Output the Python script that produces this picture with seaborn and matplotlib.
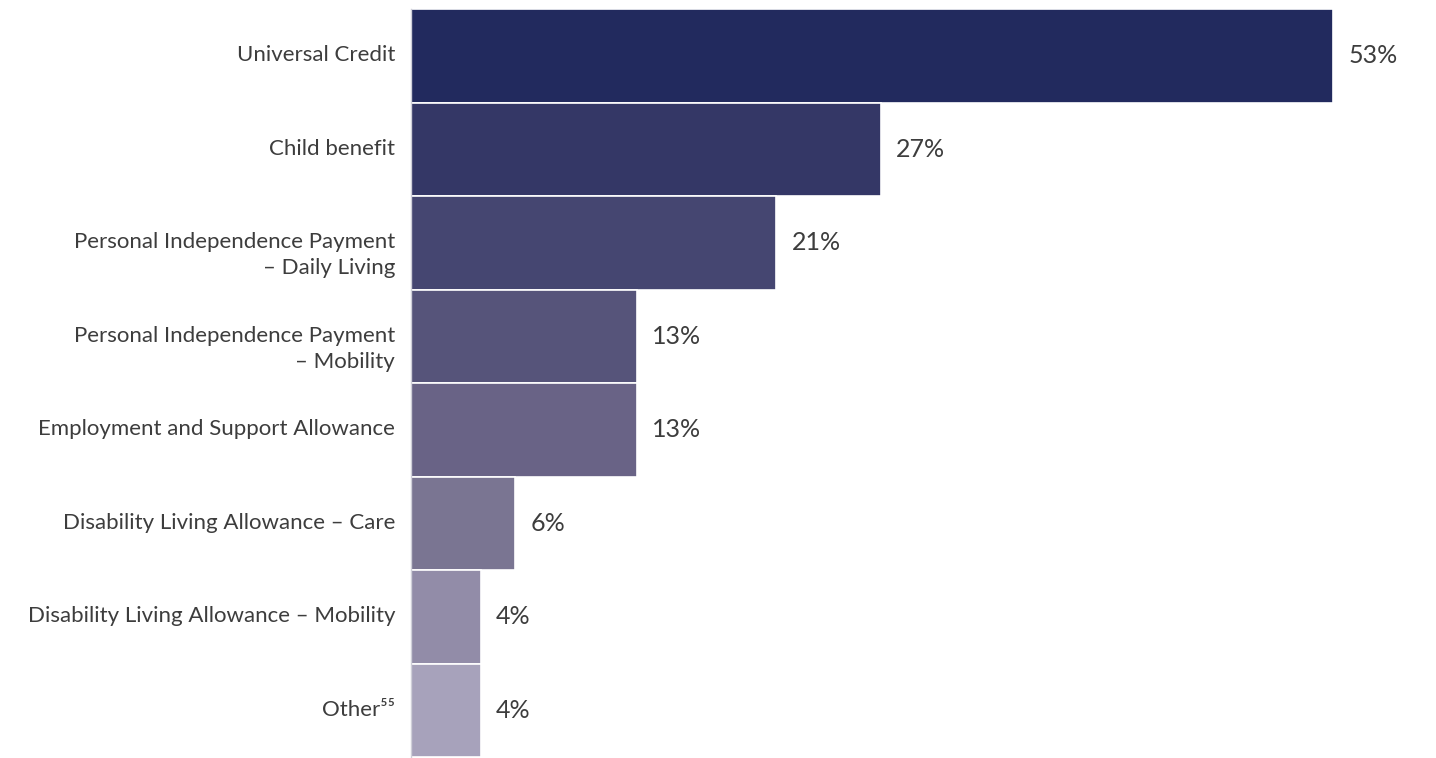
import matplotlib
matplotlib.use("Agg")
import matplotlib.pyplot as plt
import matplotlib.transforms as mtransforms
import seaborn as sns
import pandas as pd

# Share of claimants receiving each benefit
benefits = [
    "Universal Credit",
    "Child benefit",
    "Personal Independence Payment\n– Daily Living",
    "Personal Independence Payment\n– Mobility",
    "Employment and Support Allowance",
    "Disability Living Allowance – Care",
    "Disability Living Allowance – Mobility",
    "Other⁵⁵",
]
shares = [53, 27, 21, 13, 13, 6, 4, 4]
bar_colors = ["#222a5e", "#343766", "#454671", "#56547a",
              "#696386", "#7a7592", "#928ca8", "#a7a2bb"]

sns.set_theme(style="white")
plt.rcParams["font.family"] = ["Lato", "DejaVu Sans"]

df = pd.DataFrame({"benefit": benefits, "share": shares})

W, H = 1436, 758
fig = plt.figure(figsize=(W / 100, H / 100), dpi=100)
left_px, right_px, top_px, bot_px = 411, 1436, 9, 757
ax = fig.add_axes([left_px / W, 1 - bot_px / H,
                   (right_px - left_px) / W, (bot_px - top_px) / H])

sns.barplot(data=df, x="share", y="benefit", hue="benefit",
            palette=bar_colors, saturation=1, legend=False, orient="h",
            width=1.0, edgecolor="white", linewidth=1.2, ax=ax)

xmax = 53 * (right_px - left_px) / (1333 - left_px)
ax.set_xlim(0, xmax)
ax.set_ylim(len(benefits) - 0.5, -0.5)

text_color = "#3d3d3d"

# value labels next to each bar
for i, v in enumerate(shares):
    ax.annotate(f"{v}%", xy=(v, i), xytext=(11, 1.5), textcoords="offset points",
                ha="left", va="center_baseline", fontsize=18, color=text_color)

# category labels: first line centred on the bar, extra lines hang below
line_step_px = 26
for i, name in enumerate(benefits):
    for k, line in enumerate(name.split("\n")):
        tf = ax.get_yaxis_transform() + mtransforms.ScaledTranslation(
            -16 / 100, (2.5 - k * line_step_px) / 100, fig.dpi_scale_trans)
        ax.text(0, i, line, transform=tf, ha="right", va="center_baseline",
                fontsize=16, color=text_color)

ax.set_xlabel("")
ax.set_ylabel("")
ax.set_xticks([])
ax.set_yticks([])
for s in ["top", "right", "bottom"]:
    ax.spines[s].set_visible(False)
ax.spines["left"].set_color("#cfcfd8")
ax.spines["left"].set_linewidth(1.0)

fig.savefig("out.png", dpi=100, facecolor="white")
